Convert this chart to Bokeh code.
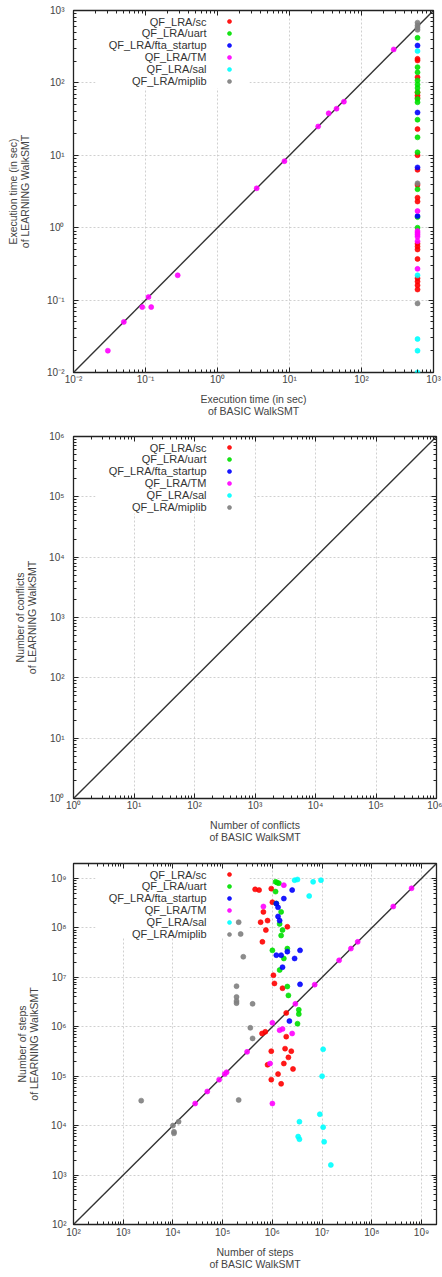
from bokeh.plotting import figure
from bokeh.models import (LogAxis, FixedTicker, CustomJSTickFormatter, Label, Legend,
                          LegendItem, BoxAnnotation, Range1d)
from bokeh.layouts import column
from bokeh.embed import file_html
from bokeh.resources import INLINE

# ---------------- data ----------------
series_names = ["QF_LRA/sc", "QF_LRA/uart", "QF_LRA/fta_startup", "QF_LRA/TM", "QF_LRA/sal", "QF_LRA/miplib"]
series_colors = ["#ff0000", "#00e000", "#0000ff", "#ff00ff", "#00ffff", "#808080"]

# Panel 1: execution time (sec)
time_sc_x = [600] * 20
time_sc_y = [215, 204, 120, 74, 67, 62, 23, 10, 6.3, 3.9, 2.6, 2.3, 0.6, 0.55, 0.5, 0.37, 0.2, 0.18, 0.16, 0.14]
time_uart_x = [600] * 15
time_uart_y = [419, 165, 140, 108, 95, 85, 74, 60, 54, 31, 17.7, 11, 3.4, 1.4, 1.0]
time_fta_x = [600] * 4
time_fta_y = [328, 39, 6.8, 1.45]
time_tm_x = [0.03, 0.05, 0.09, 0.11, 0.12, 0.28, 3.5, 8.5, 25, 35, 45, 57, 280, 600, 600, 600, 600, 600, 600, 600]
time_tm_y = [0.02, 0.05, 0.08, 0.11, 0.08, 0.22, 3.5, 8.3, 25, 38, 44, 55, 290, 1.7, 0.9, 0.85, 0.8, 0.75, 0.65, 0.27]
time_sal_x = [600] * 5
time_sal_y = [275, 0.22, 0.029, 0.02, 0.01]
time_mip_x = [600] * 6
time_mip_y = [680, 620, 580, 540, 4.1, 0.09]

# Panel 2: number of conflicts -- all zero, so nothing is visible on the log axes
conf_sc_x, conf_sc_y = [0], [0]
conf_uart_x, conf_uart_y = [0], [0]
conf_fta_x, conf_fta_y = [0], [0]
conf_tm_x, conf_tm_y = [0], [0]
conf_sal_x, conf_sal_y = [0], [0]
conf_mip_x, conf_mip_y = [0], [0]

# Panel 3: number of steps
step_sc_x = [5.4e5, 4.5e5, 9.5e5, 1.0e6, 6.6e5, 5.8e5, 7.4e5, 6.3e5, 2.0e6, 8e5, 1.1e6, 1.6e6, 1.9e6,
             6.2e5, 7.2e5, 1.9e6, 9.5e5, 1.8e6, 2.4e6, 2.1e6, 8.0e5, 2.6e6, 1.3e6, 1.5e6, 1.05e6, 1.7e6, 9.5e5]
step_sc_y = [5.8e8, 6.0e8, 6.2e8, 3.3e8, 2.1e8, 1.3e8, 9e7, 5.2e7, 1.05e8, 1.4e8, 7.5e6, 6.0e6, 1.9e6,
             7.3e5, 7.9e5, 6.3e5, 3.2e5, 3.6e5, 3.2e5, 2.4e5, 1.7e5, 1.4e5, 1.1e5, 7e4, 1.1e7, 1.8e5, 8.5e4]
step_uart_x = [1.16e6, 1.25e6, 1.35e6, 1.16e6, 1.2e6, 1.5e6, 1.4e6, 1.6e6, 1.5e6, 1.0e6, 2.0e6, 1.7e6,
               1.4e6, 2.1e6, 3.4e6, 3.4e6, 3.2e6, 2.0e6]
step_uart_y = [8.5e8, 8.2e8, 8.0e8, 5.4e8, 3.1e8, 2.1e8, 1.2e8, 9e7, 7e7, 3.5e7, 3.8e7, 2.4e7,
               1.4e7, 4.3e6, 1.8e6, 2.2e6, 1.15e6, 6.5e6]
step_fta_x = [2.5e6, 1.7e6, 1.2e6, 1.3e6, 1.3e6, 1.4e6, 1.2e6, 2.0e6, 2.8e6, 1.6e6, 3.6e6, 2.2e6, 3.6e6, 1.5e6]
step_fta_y = [5.8e8, 3.9e8, 3.1e8, 2.6e8, 1.7e8, 1.4e8, 2.8e7, 3.3e7, 2.4e7, 1.6e7, 7.2e6, 1.3e6, 3.5e7, 2.8e7]
step_tm_x = [2.8e4, 4.9e4, 8.5e4, 1.1e5, 1.2e5, 3.1e5, 2.9e6, 7.1e6, 2.2e7, 3.8e7, 5.2e7, 2.7e8, 6.3e8,
             1.0e6, 1.0e6, 1.6e6, 1.4e6, 2.5e6, 1.7e6, 6.6e5, 9e5]
step_tm_y = [2.8e4, 4.9e4, 8.5e4, 1.1e5, 1.2e5, 3.1e5, 2.9e6, 7.1e6, 2.2e7, 3.8e7, 5.2e7, 2.7e8, 6.3e8,
             2.8e4, 1.2e6, 9e5, 8.5e5, 7.3e5, 7.3e8, 2.7e8, 1.8e5]
step_sal_x = [2.8e6, 3.2e6, 6.6e6, 9.5e6, 5.5e6, 1.05e7, 1.0e7, 3.5e6, 3.3e6, 3.5e6, 1.05e7, 1.1e7, 1.5e7, 9e6]
step_sal_y = [9.2e8, 9.5e8, 8.5e8, 9.2e8, 4.4e8, 3.5e5, 1.0e5, 1.2e4, 6e3, 5.3e3, 9.3e3, 4.7e3, 1.6e3, 1.7e4]
step_mip_x = [2.3e3, 1.0e4, 1.05e4, 1.05e4, 1.3e4, 2.1e5, 3.6e5, 4.0e5, 4.0e5, 1.9e5, 1.9e5, 1.9e5,
              2.1e5, 2.3e5, 2.6e5, 1.9e5]
step_mip_y = [3.2e4, 1.0e4, 7.5e3, 7e3, 1.2e4, 3.3e4, 9.5e5, 5.8e5, 2.9e6, 6.6e6, 3e6, 3.3e6,
              1.3e8, 7.5e7, 2.6e7, 4e6]

# axis limits and decade ticks
time_limits = [1e-2, 1e3]
conf_limits = [1e0, 1e6]
step_limits = [1e2, 2e9]
time_ticks = [1e-2, 1e-1, 1e0, 1e1, 1e2, 1e3]
conf_ticks = [1e0, 1e1, 1e2, 1e3, 1e4, 1e5, 1e6]
step_ticks = [1e2, 1e3, 1e4, 1e5, 1e6, 1e7, 1e8, 1e9]

FONT = "Liberation Sans"
SUP_JS = """
const sup = {"-":"\\u207b","0":"\\u2070","1":"\\u00b9","2":"\\u00b2","3":"\\u00b3","4":"\\u2074",
             "5":"\\u2075","6":"\\u2076","7":"\\u2077","8":"\\u2078","9":"\\u2079"};
const e = Math.round(Math.log10(tick));
return "10" + String(e).split("").map(c => sup[c]).join("");
"""


def minor_of(ticks, hi):
    out = []
    for t in ticks:
        for m in range(2, 10):
            if t * m <= hi:
                out.append(t * m)
    return out


def make_panel(xlabel, ylabel, limits, ticks, data, frame, borders, xstand, ystand, ylab_stand, box):
    fw, fh = frame
    top, bottom, left, right = borders
    p = figure(frame_width=fw, frame_height=fh, x_axis_type="log", y_axis_type="log",
               x_range=Range1d(*limits), y_range=Range1d(*limits),
               output_backend="svg", toolbar_location=None,
               min_border_top=top, min_border_bottom=bottom,
               min_border_left=left, min_border_right=right)
    p.background_fill_color = "white"
    p.border_fill_color = "white"
    p.outline_line_color = "#222222"
    p.outline_line_width = 1.3

    ticker = FixedTicker(ticks=ticks, minor_ticks=minor_of(ticks, limits[1]))
    fmt = CustomJSTickFormatter(code=SUP_JS)
    blank = CustomJSTickFormatter(code="return '';")

    bottom_ax = p.below[0]
    left_ax = p.left[0]
    extra_top = LogAxis(formatter=blank)
    extra_right = LogAxis(formatter=blank)
    p.add_layout(extra_top, "above")
    p.add_layout(extra_right, "right")

    for ax in [bottom_ax, left_ax, extra_top, extra_right]:
        ax.ticker = ticker
        ax.axis_line_color = None
        ax.major_tick_in = 5
        ax.major_tick_out = 0
        ax.minor_tick_in = 3
        ax.minor_tick_out = 0
        ax.major_tick_line_color = "#222222"
        ax.minor_tick_line_color = "#222222"
        ax.major_label_text_font = FONT
        ax.major_label_text_font_size = "10px"
        ax.major_label_text_color = "#444444"
        ax.axis_label_text_font = FONT
        ax.axis_label_text_font_size = "10.5px"
        ax.axis_label_text_font_style = "normal"
        ax.axis_label_text_color = "#444444"
        ax.axis_label_text_line_height = 1.0
    extra_top.major_label_standoff = 0
    extra_right.major_label_standoff = 0

    bottom_ax.formatter = fmt
    left_ax.formatter = fmt
    bottom_ax.major_label_standoff = xstand
    left_ax.major_label_standoff = ystand
    bottom_ax.axis_label = xlabel
    left_ax.axis_label = ylabel
    bottom_ax.axis_label_standoff = 5
    left_ax.axis_label_standoff = ylab_stand

    for g in [p.xgrid[0], p.ygrid[0]]:
        g.ticker = FixedTicker(ticks=ticks)
        g.grid_line_color = "#c4c4c4"
        g.grid_line_dash = "2 2"
        g.grid_line_width = 0.8

    # white key background hiding the grid (gnuplot style)
    bl, br, bt, bb = box
    p.add_layout(BoxAnnotation(left=bl, right=br, top=fh - bt, bottom=fh - bb,
                               left_units="screen", right_units="screen",
                               top_units="screen", bottom_units="screen",
                               fill_color="white", fill_alpha=1.0, line_color=None,
                               level="underlay"))

    # diagonal y = x
    p.line(x=limits, y=limits, line_color="#333333", line_width=1.4)

    renderers = []
    for (xs, ys), col in zip(data, series_colors):
        r = p.scatter(x=xs, y=ys, marker="circle", size=5, fill_color=col, line_color=col,
                      fill_alpha=0.9, line_alpha=0.6)
        renderers.append(r)

    # key: text on the left, symbol on the right
    row_h = 11.8
    first = 11
    for i, name in enumerate(series_names):
        p.add_layout(Label(x=133, y=fh - (first + row_h * i), x_units="screen", y_units="screen",
                           text=name, text_align="right", text_baseline="middle",
                           text_font=FONT, text_font_size="11px", text_color="#333333"))
    leg = Legend(items=[LegendItem(label=" ", renderers=[r]) for r in renderers],
                 location=(151, fh - (first - 6) - 6 * 12), orientation="vertical",
                 glyph_width=10, glyph_height=12, label_width=0, label_height=12,
                 label_standoff=0, label_text_font_size="0px", spacing=0, padding=0, margin=0,
                 background_fill_alpha=0, border_line_alpha=0)
    p.add_layout(leg)
    return p


p1 = make_panel("Execution time (in sec)\nof BASIC WalkSMT",
                "Execution time (in sec)\nof LEARNING WalkSMT",
                time_limits, time_ticks,
                [(time_sc_x, time_sc_y), (time_uart_x, time_uart_y), (time_fta_x, time_fta_y),
                 (time_tm_x, time_tm_y), (time_sal_x, time_sal_y), (time_mip_x, time_mip_y)],
                (360, 362), (10, 48, 73, 9), 1, 9, 13, (22, 176, 3, 78))

p2 = make_panel("Number of conflicts\nof BASIC WalkSMT",
                "Number of conflicts\nof LEARNING WalkSMT",
                conf_limits, conf_ticks,
                [(conf_sc_x, conf_sc_y), (conf_uart_x, conf_uart_y), (conf_fta_x, conf_fta_y),
                 (conf_tm_x, conf_tm_y), (conf_sal_x, conf_sal_y), (conf_mip_x, conf_mip_y)],
                (363, 362), (16, 48, 69, 10), 1, 9, 8, (22, 180, 3, 77))

p3 = make_panel("Number of steps\nof BASIC WalkSMT",
                "Number of steps\nof LEARNING WalkSMT",
                step_limits, step_ticks,
                [(step_sc_x, step_sc_y), (step_uart_x, step_uart_y), (step_fta_x, step_fta_y),
                 (step_tm_x, step_tm_y), (step_sal_x, step_sal_y), (step_mip_x, step_mip_y)],
                (363, 361), (17, 53, 69, 10), 2, 7, 8, (22, 176, 3, 74))

layout = column(p1, p2, p3, spacing=0)
open("out.html", "w").write(file_html(layout, INLINE))
